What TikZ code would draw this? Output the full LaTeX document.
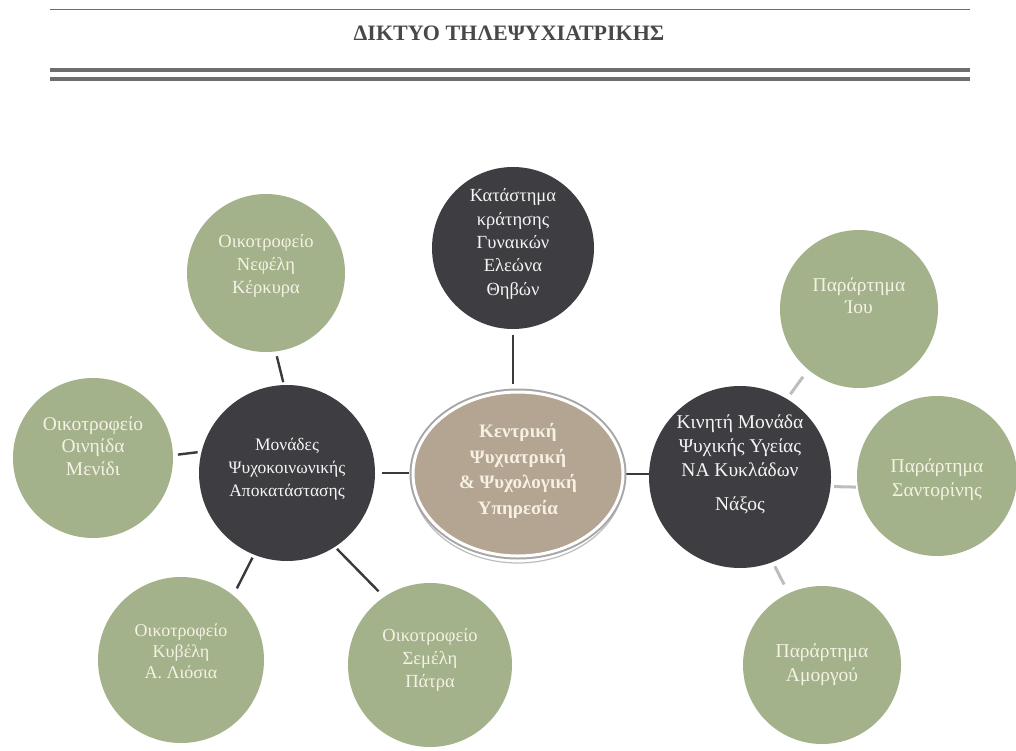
\documentclass[tikz,border=0pt]{standalone}
\usepackage{fontspec}
\setmainfont{Liberation Serif}
\usetikzlibrary{shapes.geometric,backgrounds}
\definecolor{dk}{HTML}{3E3D42}
\definecolor{gr}{HTML}{A4B28B}
\definecolor{bg}{HTML}{B4A592}
\definecolor{ln}{HTML}{3A3A3C}
\definecolor{lg}{HTML}{BDBDBD}
\definecolor{rl}{HTML}{6E6E6E}
\definecolor{ttl}{HTML}{484848}
\definecolor{cream}{HTML}{F4F2E4}
\definecolor{bcream}{HTML}{F7F1E3}
\begin{document}
\begin{tikzpicture}[x=1pt,y=-1pt,
  darkc/.style={circle, fill=dk, inner sep=0pt, outer sep=0pt},
  greenc/.style={circle, fill=gr, inner sep=0pt, outer sep=0pt},
  dtxt/.style={align=center, text=white!92!gray, font=\fontsize{17.5}{23}\selectfont, inner sep=0pt},
  gtxt/.style={align=center, text=cream, font=\fontsize{18.5}{23}\selectfont, inner sep=0pt},
  dline/.style={draw=ln, line width=2.4pt},
  lline/.style={draw=lg, line width=3pt},
  hrule/.style={draw=rl, line width=4pt},
]
\useasboundingbox (0,0) rectangle (1016,751);

% header
\draw[rl, line width=1pt] (50,9.5) -- (970,9.5);
\node[font=\bfseries\fontsize{22}{26}\selectfont, text=ttl] (title) at (509,33) {ΔΙΚΤΥΟ ΤΗΛΕΨΥΧΙΑΤΡΙΚΗΣ};
\draw[hrule] (50,70) -- (970,70);
\draw[hrule] (50,79) -- (970,79);

% shadow of centre ellipse
\draw[lg, line width=1.2pt] (518,478) ellipse [x radius=106, y radius=85];

% circles
\node[darkc, minimum size=162pt] (T) at (513,248) {};
\node[ellipse, fill=bg, draw=white, line width=3pt, minimum width=210pt, minimum height=164pt,
      preaction={draw=gray!70, line width=7pt}] (C) at (518,474) {};
\node[darkc, minimum size=176pt] (L) at (287,473) {};
\node[darkc, minimum size=182pt] (R) at (740,477) {};
\node[greenc, minimum size=158pt] (N) at (266,273) {};
\node[greenc, minimum size=160pt] (O) at (93,458) {};
\node[greenc, minimum size=166pt] (K) at (181,660) {};
\node[greenc, minimum size=164pt] (S) at (430,665) {};
\node[greenc, minimum size=158pt] (I) at (859,309) {};
\node[greenc, minimum size=160pt] (Sa) at (937,476) {};
\node[greenc, minimum size=158pt] (A) at (822,665) {};

% texts
\node[dtxt, font=\fontsize{18.5}{23.3}\selectfont] (Tt) at ([yshift=4pt]T.center) {Κατάστημα\\κράτησης\\Γυναικών\\Ελεώνα\\Θηβών};
\node[align=center, inner sep=0pt, text=bcream, font=\bfseries\fontsize{19}{25.5}\selectfont] (Ct) at ([yshift=3pt]C.center) {Κεντρική\\Ψυχιατρική\\\& Ψυχολογική\\Υπηρεσία};
\node[dtxt] (Lt) at ([yshift=4pt]L.center) {Μονάδες\\Ψυχοκοινωνικής\\Αποκατάστασης};
\node[dtxt, font=\fontsize{19.5}{24}\selectfont] (Rt) at ([yshift=13pt]R.center) {Κινητή Μονάδα\\Ψυχικής Υγείας\\ΝΑ Κυκλάδων\\[10pt]Νάξος};
\node[gtxt] (Nt) at ([yshift=7pt]N.center) {Οικοτροφείο\\Νεφέλη\\Κέρκυρα};
\node[gtxt, font=\fontsize{19.5}{22.5}\selectfont] (Ot) at ([yshift=12pt]O.center) {Οικοτροφείο\\Οινηίδα\\Μενίδι};
\node[gtxt, font=\fontsize{18}{21}\selectfont] (Kt) at ([yshift=9pt]K.center) {Οικοτροφείο\\Κυβέλη\\Α. Λιόσια};
\node[gtxt] (St) at ([yshift=5pt]S.center) {Οικοτροφείο\\Σεμέλη\\Πάτρα};
\node[gtxt, font=\fontsize{19.5}{22}\selectfont] (It) at ([yshift=13pt]I.center) {Παράρτημα\\Ίου};
\node[gtxt, font=\fontsize{19.5}{24}\selectfont] (Sat) at ([yshift=-4pt]Sa.center) {Παράρτημα\\Σαντορίνης};
\node[gtxt, font=\fontsize{19.5}{24}\selectfont] (At) at (A.center) {Παράρτημα\\Αμοργού};

% connectors
\begin{scope}[on background layer]
\fill[white] (0,0) rectangle (1016,751);
\draw[dline, shorten <=6pt, shorten >=7pt] (T.south) -- (T.south |- C.north);
\draw[dline, shorten <=7pt, shorten >=3pt] (L.east) -- (L.east -| C.west);
\draw[dline] (C.east) -- (C.east -| R.west);
\draw[dline, shorten <=3pt, shorten >=5pt] (L.92) -- (N.277);
\draw[dline, shorten <=4pt, shorten >=5pt] (L.166) -- (O.2);
\draw[dline, shorten <=3.5pt, shorten >=8pt] (L.248) -- (K.51);
\draw[dline, shorten <=3pt, shorten >=8pt] (L.303) -- (S.124);
\draw[lline, shorten <=6pt, shorten >=9pt] (R.59) -- (I.230);
\draw[lline, shorten <=3.5pt, shorten >=2pt] (R.-6) -- (Sa.188);
\draw[lline, shorten <=5pt, shorten >=10pt] (R.291) -- (A.115);
\end{scope}
\end{tikzpicture}
\end{document}
